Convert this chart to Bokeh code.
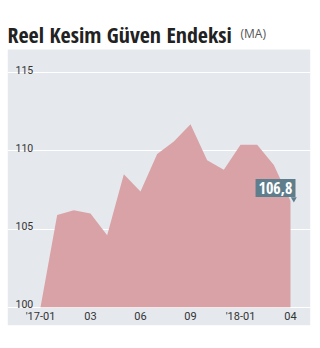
from bokeh.plotting import figure
from bokeh.models import Label, FixedTicker, Range1d, ColumnDataSource, BoxAnnotation
from bokeh.core.properties import value
from bokeh.embed import file_html
from bokeh.resources import INLINE

# ---- data ----
months = list(range(16))  # Jan 2017 .. Apr 2018 (monthly)
index_values = [100.0, 105.9, 106.2, 106.0, 104.6, 108.5, 107.4, 109.8,
                110.6, 111.7, 109.4, 108.8, 110.4, 110.4, 109.1, 106.8]
x_tick_pos = [0, 3, 6, 9, 12, 15]
x_tick_labels = ["'17-01", "03", "06", "09", "'18-01", "04"]
y_ticks = [100, 105, 110, 115]
y_tick_labels = ["100", "105", "110", "115"]
last_label = "106,8"
title_main = "Reel Kesim Güven Endeksi"
title_sub = "(MA)"

PANEL = "#e5e9ee"
AREA = "#d9a2a6"
TAG = "#5f7e8c"
COND = "Open Sans Condensed"
PANEL_TOP = 116.49  # top edge of the grey panel, in index units

p = figure(width=320, height=348, output_backend="svg", toolbar_location=None,
           x_range=Range1d(-1.98, 16.2), y_range=Range1d(98.83, 119.62),
           y_axis_location=None, min_border_left=7, min_border_right=10,
           min_border_top=0, min_border_bottom=23)
p.background_fill_color = "white"
p.border_fill_color = "white"
p.outline_line_color = None

p.add_layout(BoxAnnotation(top=PANEL_TOP, fill_color=PANEL, fill_alpha=1.0,
                           line_color=None, level="image"))

p.xgrid.visible = False
p.ygrid.ticker = FixedTicker(ticks=y_ticks)
p.ygrid.grid_line_color = "white"
p.ygrid.grid_line_width = 1.2
p.ygrid.level = "underlay"

xa = p.xaxis[0]
xa.ticker = FixedTicker(ticks=x_tick_pos)
xa.major_label_overrides = {k: v for k, v in zip(x_tick_pos, x_tick_labels)}
xa.axis_line_color = None
xa.major_tick_line_color = None
xa.minor_tick_line_color = None
xa.major_tick_out = 0
xa.major_tick_in = 0
xa.major_label_standoff = -16
xa.major_label_text_font = "Roboto"
xa.major_label_text_font_size = "11px"
xa.major_label_text_color = "#333333"

p.varea(x=months, y1=y_ticks[0], y2=index_values, fill_color=AREA, fill_alpha=1.0)

ysrc = ColumnDataSource(dict(x=[p.x_range.start] * len(y_ticks), y=y_ticks, t=y_tick_labels))
p.text(x="x", y="y", text="t", source=ysrc, x_offset=8, y_offset=-3,
       text_font=value("Roboto"), text_font_size="10.5px", text_color="#333333",
       text_baseline="alphabetic", text_align="left")

p.scatter(x=[months[-1] + 0.2], y=[index_values[-1] + 0.12], marker="inverted_triangle",
          size=6, fill_color=TAG, line_color=None)
p.add_layout(Label(x=months[-1], y=index_values[-1], text=last_label,
                   x_offset=5, y_offset=4, text_align="right", text_baseline="bottom",
                   text_font=COND, text_font_style="bold",
                   text_font_size="16px", text_color="white",
                   background_fill_color=TAG, padding=3))

p.add_layout(Label(x=0, y=292, x_units="screen", y_units="screen",
                   text=title_main, text_font=COND, text_font_style="bold",
                   text_font_size="22px", text_color="#222222", text_baseline="alphabetic"))
p.add_layout(Label(x=233, y=292, x_units="screen", y_units="screen",
                   text=title_sub, text_font="Open Sans",
                   text_font_size="12px", text_color="#555555", text_baseline="alphabetic"))

open("out.html", "w").write(file_html(p, INLINE))
